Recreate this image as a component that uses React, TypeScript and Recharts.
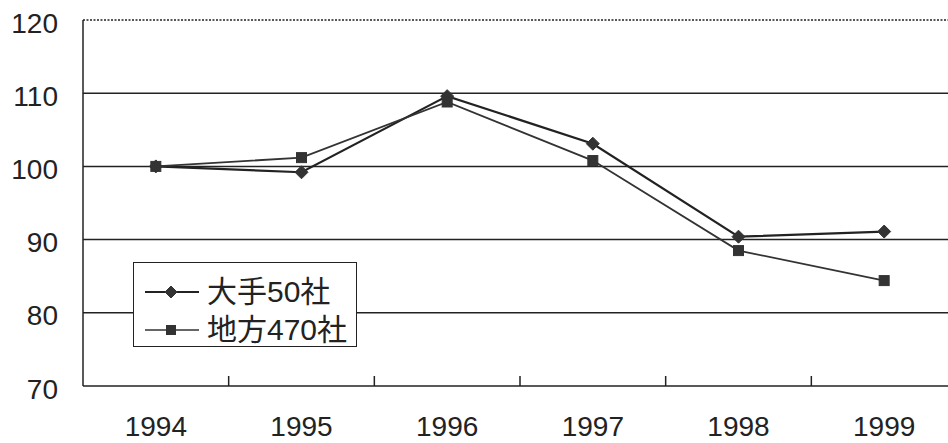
import React from 'react';
import { LineChart, Line, XAxis, YAxis, ReferenceLine, Legend } from 'recharts';

// Index (1994 = 100) for the two company groups
const years = [1994, 1995, 1996, 1997, 1998, 1999];
const majorValues = [100, 99.2, 109.6, 103.1, 90.4, 91.1];
const regionalValues = [100, 101.2, 108.8, 100.8, 88.5, 84.4];
const seriesNames = ['大手50社', '地方470社'];
const yTicks = [70, 80, 90, 100, 110, 120];
const gridValues = [80, 90, 100, 110];

const data = years.map((year, i) => ({
  year,
  major: majorValues[i],
  regional: regionalValues[i],
}));

// category boundaries get the small tick marks, years get the labels
const boundaryTicks = years.slice(0, -1).map((y) => y + 0.5);
const xTicks = [...years, ...boundaryTicks].sort((a, b) => a - b);

const INK = '#222';
const MARK = '#333';
const FONT = '"Liberation Sans", Arial, "Noto Sans CJK JP", sans-serif';

const Diamond = ({ cx, cy, r = 6.5 }: any) => (
  <path d={`M${cx},${cy - r} L${cx + r},${cy} L${cx},${cy + r} L${cx - r},${cy} Z`} fill={MARK} stroke={MARK} strokeWidth={1} />
);

const Square = ({ cx, cy, s = 5 }: any) => (
  <rect x={cx - s} y={cy - s} width={s * 2} height={s * 2} fill={MARK} stroke={MARK} strokeWidth={1} />
);

const XTick = ({ x, y, payload }: any) => {
  const v = payload.value;
  if (!Number.isInteger(v)) {
    return <line x1={x} x2={x} y1={y} y2={y - 10} stroke={INK} strokeWidth={1.5} />;
  }
  return (
    <text x={x} y={y + 50} textAnchor="middle" fontSize={28} fontFamily={FONT} fill={INK}>
      {v}
    </text>
  );
};

const YTick = ({ x, y, payload }: any) => (
  <text x={x} y={y + 12.5} textAnchor="end" fontSize={28} fontFamily={FONT} fill={INK}>
    {payload.value}
  </text>
);

const LegendBox = () => (
  <div
    style={{
      width: 224,
      height: 85,
      boxSizing: 'border-box',
      border: `1.5px solid ${INK}`,
      background: '#fff',
      fontFamily: FONT,
      fontSize: 30,
      color: INK,
      position: 'relative',
    }}
  >
    {seriesNames.map((name, i) => (
      <div
        key={name}
        style={{ position: 'absolute', left: 9, top: i === 0 ? 11 : 49, height: 36, display: 'flex', alignItems: 'center' }}
      >
        <svg width={58} height={20} style={{ marginRight: 6 }}>
          <line x1={2} x2={56} y1={10} y2={10} stroke={i === 0 ? INK : MARK} strokeWidth={i === 0 ? 2 : 1.7} />
          {i === 0 ? <Diamond cx={28} cy={10} r={6} /> : <Square cx={28} cy={10} s={4.5} />}
        </svg>
        <span style={{ lineHeight: '36px', whiteSpace: 'nowrap' }}>{name}</span>
      </div>
    ))}
  </div>
);

export default function App() {
  return (
    <div
      style={{
        position: 'fixed',
        left: 0,
        top: 0,
        width: 948,
        height: 443,
        overflow: 'hidden',
        background: '#fff',
      }}
    >
      <LineChart width={960} height={443} data={data} margin={{ top: 20, right: 3, bottom: 0, left: 0 }}>
        <XAxis
          dataKey="year"
          type="number"
          domain={[1993.5, 1999.5]}
          ticks={xTicks}
          interval={0}
          tickSize={0}
          tickMargin={0}
          tickLine={false}
          height={57}
          axisLine={{ stroke: INK, strokeWidth: 1.5 }}
          tick={<XTick />}
        />
        <YAxis
          domain={[70, 120]}
          ticks={yTicks}
          interval={0}
          width={83}
          tickSize={0}
          tickMargin={25}
          tickLine={false}
          axisLine={{ stroke: INK, strokeWidth: 1.5 }}
          tick={<YTick />}
        />
        {gridValues.map((v) => (
          <ReferenceLine key={v} y={v} stroke={INK} strokeWidth={1.5} />
        ))}
        <ReferenceLine y={120} stroke={INK} strokeWidth={1.5} strokeDasharray="2 1.5" />
        <Legend
          layout="vertical"
          align="center"
          verticalAlign="middle"
          content={<LegendBox />}
          wrapperStyle={{ position: 'absolute', left: 133, top: 262, width: 224, height: 85 }}
        />
        <Line
          dataKey="major"
          name={seriesNames[0]}
          stroke={INK}
          strokeWidth={2.2}
          dot={(p: any) => <Diamond key={`d-${p.index}`} cx={p.cx} cy={p.cy} />}
          isAnimationActive={false}
        />
        <Line
          dataKey="regional"
          name={seriesNames[1]}
          stroke={MARK}
          strokeWidth={1.8}
          dot={(p: any) => <Square key={`s-${p.index}`} cx={p.cx} cy={p.cy} />}
          isAnimationActive={false}
        />
      </LineChart>
    </div>
  );
}
